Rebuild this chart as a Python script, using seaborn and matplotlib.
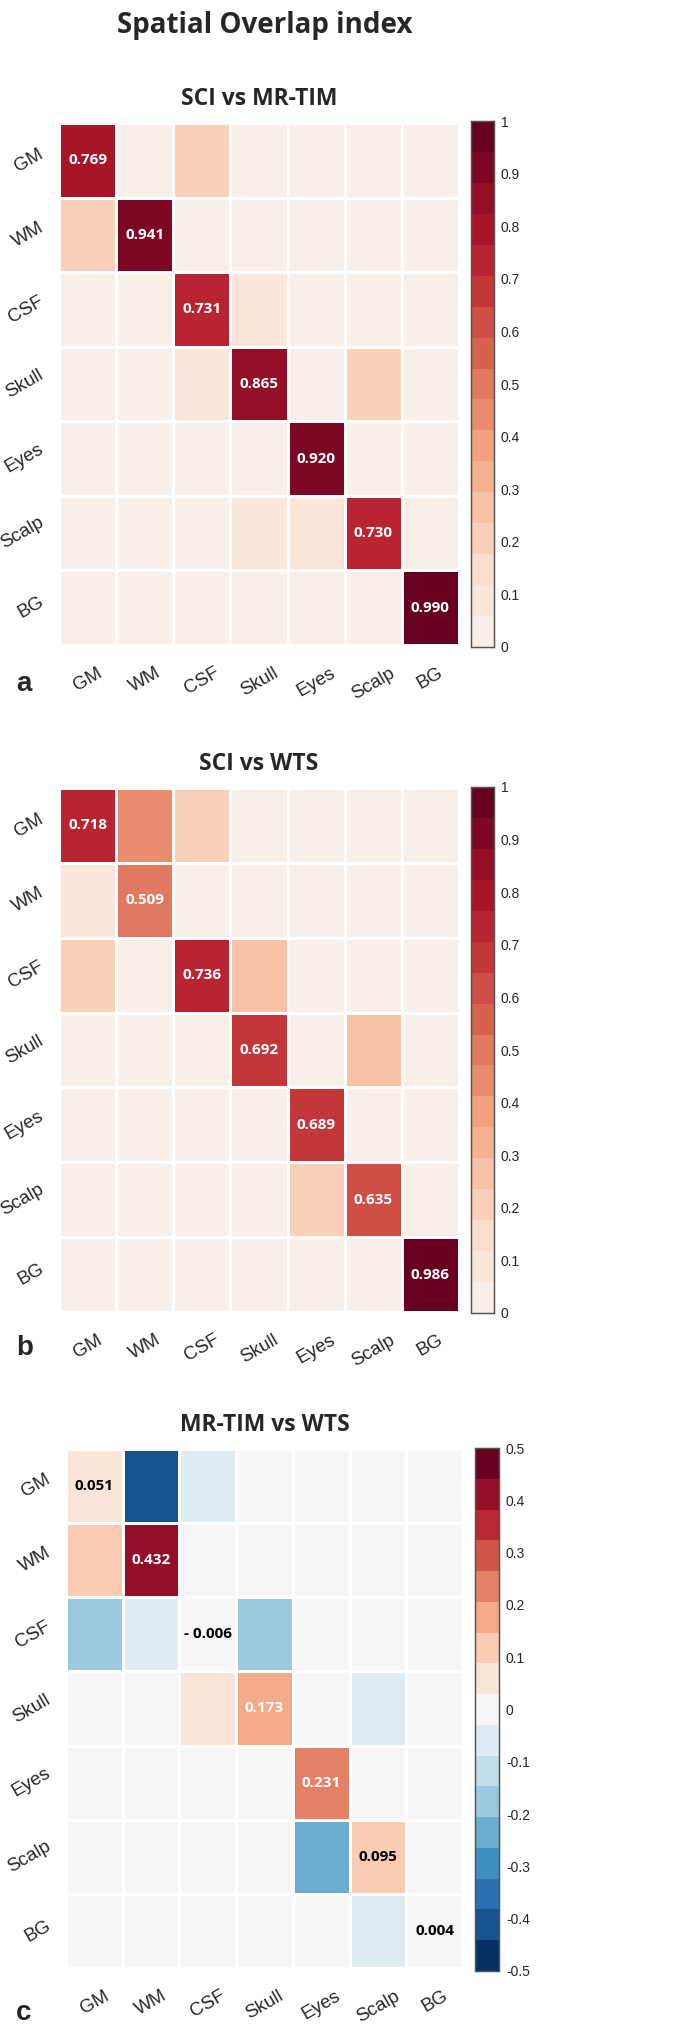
import numpy as np
import matplotlib
matplotlib.use("Agg")
import matplotlib.pyplot as plt
from matplotlib.colors import ListedColormap
import seaborn as sns

# tissue classes (rows = columns)
tissues = ["GM", "WM", "CSF", "Skull", "Eyes", "Scalp", "BG"]

# panel a: SCI vs MR-TIM
sci_vs_mrtim = [
    [0.769, 0.02, 0.20, 0.01, 0.01, 0.01, 0.01],
    [0.20, 0.941, 0.03, 0.01, 0.01, 0.01, 0.01],
    [0.01, 0.01, 0.731, 0.09, 0.01, 0.01, 0.01],
    [0.01, 0.01, 0.10, 0.865, 0.01, 0.22, 0.01],
    [0.01, 0.01, 0.01, 0.01, 0.920, 0.01, 0.01],
    [0.01, 0.01, 0.01, 0.09, 0.09, 0.730, 0.01],
    [0.01, 0.01, 0.01, 0.01, 0.01, 0.01, 0.990],
]

# panel b: SCI vs WTS
sci_vs_wts = [
    [0.718, 0.42, 0.20, 0.01, 0.01, 0.01, 0.01],
    [0.08, 0.509, 0.02, 0.01, 0.01, 0.01, 0.01],
    [0.22, 0.02, 0.736, 0.25, 0.01, 0.01, 0.01],
    [0.01, 0.01, 0.02, 0.692, 0.01, 0.27, 0.01],
    [0.01, 0.01, 0.01, 0.01, 0.689, 0.01, 0.01],
    [0.01, 0.01, 0.01, 0.01, 0.20, 0.635, 0.01],
    [0.01, 0.01, 0.01, 0.01, 0.01, 0.01, 0.986],
]

# panel c: MR-TIM vs WTS (difference)
mrtim_vs_wts = [
    [0.051, -0.42, -0.06, 0.0, 0.0, 0.0, 0.0],
    [0.12, 0.432, 0.0, 0.0, 0.0, 0.0, 0.0],
    [-0.18, -0.06, -0.006, -0.18, 0.0, 0.0, 0.0],
    [0.0, 0.0, 0.05, 0.173, 0.0, -0.06, 0.0],
    [0.0, 0.0, 0.0, 0.0, 0.231, 0.0, 0.0],
    [0.0, 0.0, 0.0, 0.0, -0.24, 0.095, 0.0],
    [0.0, 0.0, 0.0, 0.0, 0.0, -0.06, 0.004],
]

# only the diagonal is printed
diag_labels_a = ["0.769", "0.941", "0.731", "0.865", "0.920", "0.730", "0.990"]
diag_labels_b = ["0.718", "0.509", "0.736", "0.692", "0.689", "0.635", "0.986"]
diag_labels_c = ["0.051", "0.432", "- 0.006", "0.173", "0.231", "0.095", "0.004"]

cbar_ticks_pos = [0, 0.1, 0.2, 0.3, 0.4, 0.5, 0.6, 0.7, 0.8, 0.9, 1]
cbar_labels_pos = ["0", "0.1", "0.2", "0.3", "0.4", "0.5", "0.6", "0.7", "0.8", "0.9", "1"]
cbar_ticks_sym = [-0.5, -0.4, -0.3, -0.2, -0.1, 0, 0.1, 0.2, 0.3, 0.4, 0.5]
cbar_labels_sym = ["-0.5", "-0.4", "-0.3", "-0.2", "-0.1", "0", "0.1", "0.2", "0.3", "0.4", "0.5"]

rdbu = plt.get_cmap("RdBu_r")
cmap_pos = ListedColormap(rdbu(np.linspace(0.53, 1.0, 17)))
cmap_sym = ListedColormap(rdbu(np.linspace(0.0, 1.0, 17)))

sns.set_style("white")
plt.rcParams["font.family"] = ["Liberation Sans", "DejaVu Sans"]

W, H = 685, 2027
fig = plt.figure(figsize=(W / 100, H / 100), dpi=100)


def px_axes(x0, y0, x1, y1):
    # pixel box (top-left origin) -> figure axes
    return fig.add_axes([x0 / W, 1 - y1 / H, (x1 - x0) / W, (y1 - y0) / H])


def draw_panel(data, diag, box, cbox, title, letter, letter_y, cmap, vmin, vmax,
               ticks, tick_labels, white_thresh):
    ax = px_axes(*box)
    cax = px_axes(*cbox)
    n = len(tissues)
    annot = np.full((n, n), "", dtype=object)
    for i, lab in enumerate(diag):
        annot[i, i] = lab
    sns.heatmap(np.array(data), ax=ax, cbar_ax=cax, cmap=cmap, vmin=vmin, vmax=vmax,
                annot=annot, fmt="", linewidths=2, linecolor="white",
                xticklabels=tissues, yticklabels=tissues,
                annot_kws={"family": "Open Sans", "weight": "bold", "size": 11})
    for i, t in enumerate([t for t in ax.texts if t.get_text()]):
        v = abs(data[i][i])
        t.set_color("white" if v > white_thresh else "black")
    ax.tick_params(length=0, labelsize=13.5)
    plt.setp(ax.get_xticklabels(), rotation=30, ha="center")
    plt.setp(ax.get_yticklabels(), rotation=30, ha="right", va="center")
    ax.tick_params(axis="x", pad=14)
    ax.tick_params(axis="y", pad=9)
    ax.set_title(title, family="Open Sans", weight="bold", fontsize=16.5, pad=13)

    cax.set_yticks(ticks)
    cax.set_yticklabels(tick_labels)
    cax.tick_params(axis="y", direction="in", length=3, width=0.8, labelsize=10,
                    pad=5, color="#555555")
    for sp in cax.spines.values():
        sp.set_visible(True)
        sp.set_color("#555555")
        sp.set_linewidth(0.9)

    fig.text(16 / W, 1 - letter_y / H, letter, fontsize=20, weight="bold",
             ha="left", va="center")


draw_panel(sci_vs_mrtim, diag_labels_a, (59, 123, 459, 645), (471, 121, 494, 647),
           "SCI vs MR-TIM", "a", 684, cmap_pos, 0, 1,
           cbar_ticks_pos, cbar_labels_pos, 0.15)
draw_panel(sci_vs_wts, diag_labels_b, (59, 788, 459, 1312), (471, 787, 494, 1313),
           "SCI vs WTS", "b", 1348, cmap_pos, 0, 1,
           cbar_ticks_pos, cbar_labels_pos, 0.15)
draw_panel(mrtim_vs_wts, diag_labels_c, (66, 1449, 463, 1968), (475, 1448, 499, 1971),
           "MR-TIM vs WTS", "c", 2013, cmap_sym, -0.5, 0.5,
           cbar_ticks_sym, cbar_labels_sym, 0.15)

fig.text(265 / W, 1 - 25 / H, "Spatial Overlap index", family="Open Sans",
         weight="bold", fontsize=20, ha="center", va="center")

fig.savefig("out.png", dpi=100)
